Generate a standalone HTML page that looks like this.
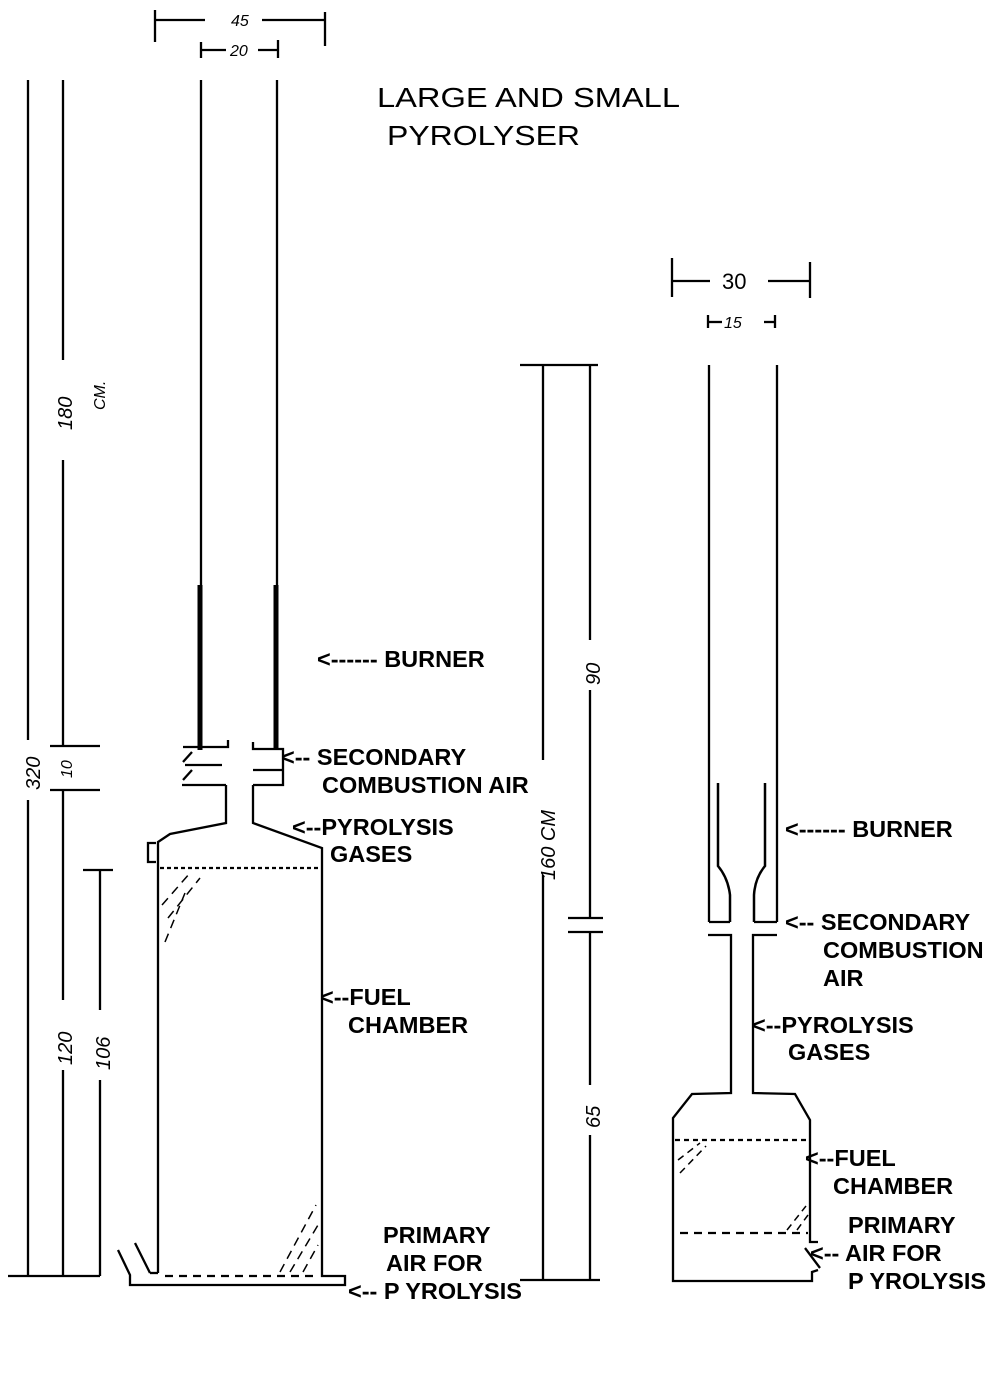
<!DOCTYPE html>
<html><head><meta charset="utf-8"><style>
html,body{margin:0;padding:0;background:#fff}
svg{display:block}
text{font-family:"Liberation Sans",Arial,sans-serif;fill:#000}
.l{font-size:23.5px;font-weight:bold}
.h{font-family:"Liberation Sans",sans-serif;font-style:italic;font-size:16px}
</style></head><body>
<svg width="1000" height="1378" viewBox="0 0 1000 1378" xmlns="http://www.w3.org/2000/svg">
<g stroke="#000" stroke-width="2.3" fill="none">
<line x1="155" y1="10" x2="155" y2="42"/><line x1="325" y1="12" x2="325" y2="46"/>
<line x1="155" y1="20" x2="205" y2="20"/><line x1="262" y1="20" x2="324" y2="20"/>
<line x1="201" y1="42" x2="201" y2="58"/><line x1="278" y1="40" x2="278" y2="58"/>
<line x1="201" y1="50" x2="226" y2="50"/><line x1="258" y1="50" x2="277" y2="50"/>
<line x1="201" y1="80" x2="201" y2="748"/><line x1="277" y1="80" x2="277" y2="748"/>
<line x1="200" y1="585" x2="200" y2="750" stroke-width="5"/><line x1="276" y1="585" x2="276" y2="750" stroke-width="5"/>
<line x1="28" y1="80" x2="28" y2="740"/><line x1="28" y1="800" x2="28" y2="1276"/>
<line x1="63" y1="80" x2="63" y2="360"/><line x1="63" y1="460" x2="63" y2="746"/>
<line x1="63" y1="790" x2="63" y2="1000"/><line x1="63" y1="1070" x2="63" y2="1276"/>
<line x1="100" y1="870" x2="100" y2="1010"/><line x1="100" y1="1080" x2="100" y2="1276"/>
<line x1="50" y1="746" x2="100" y2="746"/><line x1="50" y1="790" x2="100" y2="790"/>
<line x1="83" y1="870" x2="113" y2="870"/>
<line x1="8" y1="1276" x2="100" y2="1276"/>
<polyline points="183,747 228,747 228,740"/><line x1="185" y1="765" x2="222" y2="765"/><line x1="182" y1="785" x2="226" y2="785"/>
<line x1="183" y1="762" x2="192" y2="752"/><line x1="183" y1="780" x2="192" y2="770"/>
<polyline points="253,742 253,749 283,749 283,785 253,785"/><line x1="253" y1="770" x2="282" y2="770"/>
<polyline points="226,785 226,823 170,834 158,842 158,1273"/>
<polyline points="253,785 253,823 322,848 322,1276 345,1276 345,1285 130,1285 130,1275 118,1250"/>
<line x1="135" y1="1243" x2="150" y2="1273"/><line x1="150" y1="1273" x2="158" y2="1273"/>
<polyline points="156,843 148,843 148,862 156,862"/>
<line x1="160" y1="868" x2="320" y2="868" stroke-dasharray="4,3"/>
<line x1="165" y1="1276" x2="318" y2="1276" stroke-dasharray="8,6"/>
<g stroke-dasharray="9,6" stroke-width="1.5">
<line x1="162" y1="905" x2="190" y2="873"/><line x1="168" y1="918" x2="200" y2="878"/><line x1="165" y1="942" x2="185" y2="893"/>
<line x1="280" y1="1272" x2="316" y2="1205"/><line x1="290" y1="1272" x2="318" y2="1225"/><line x1="303" y1="1272" x2="318" y2="1245"/>
</g>
<line x1="672" y1="258" x2="672" y2="297"/><line x1="810" y1="262" x2="810" y2="298"/>
<line x1="672" y1="281" x2="710" y2="281"/><line x1="768" y1="281" x2="810" y2="281"/>
<line x1="708" y1="315" x2="708" y2="328"/><line x1="775" y1="315" x2="775" y2="328"/>
<line x1="708" y1="322" x2="722" y2="322"/><line x1="764" y1="322" x2="775" y2="322"/>
<line x1="520" y1="365" x2="598" y2="365"/>
<line x1="543" y1="365" x2="543" y2="760"/><line x1="543" y1="875" x2="543" y2="1280"/>
<line x1="590" y1="365" x2="590" y2="640"/><line x1="590" y1="690" x2="590" y2="918"/>
<line x1="568" y1="918" x2="603" y2="918"/><line x1="568" y1="932" x2="603" y2="932"/>
<line x1="590" y1="932" x2="590" y2="1085"/><line x1="590" y1="1135" x2="590" y2="1280"/>
<line x1="520" y1="1280" x2="600" y2="1280"/>
<line x1="709" y1="365" x2="709" y2="922"/><line x1="777" y1="365" x2="777" y2="922"/>
<line x1="709" y1="922" x2="730" y2="922"/><line x1="754" y1="922" x2="777" y2="922"/>
<path d="M718 783 V866 Q728 878 730 895 V922" stroke-width="2.5"/>
<path d="M765 783 V866 Q755 878 754 895 V922" stroke-width="2.5"/>
<polyline points="708,935 731,935 731,1093 692,1094 673,1118 673,1281 812,1281 812,1272 818,1270"/>
<polyline points="777,935 753,935 753,1093 795,1094 810,1120 810,1242 818,1242"/>
<line x1="675" y1="1140" x2="808" y2="1140" stroke-dasharray="5,4"/>
<line x1="680" y1="1233" x2="808" y2="1233" stroke-dasharray="8,6"/>
<g stroke-dasharray="7,5" stroke-width="1.5">
<line x1="678" y1="1160" x2="700" y2="1143"/><line x1="680" y1="1173" x2="706" y2="1146"/>
<line x1="787" y1="1230" x2="806" y2="1206"/><line x1="797" y1="1230" x2="808" y2="1215"/>
</g>
<line x1="805" y1="1248" x2="820" y2="1268"/>
</g>
<text class="h" x="231" y="26">45</text>
<text class="h" x="230" y="56" font-size="14">20</text>
<text x="722" y="289" font-size="22">30</text>
<text class="h" x="724" y="328">15</text>
<g font-size="20" font-style="italic">
<text transform="translate(40,790) rotate(-90)">320</text>
<text transform="translate(72,430) rotate(-90)">180</text>
<text transform="translate(105,410) rotate(-90)" font-size="16">CM.</text>
<text transform="translate(72,778) rotate(-90)" font-size="16">10</text>
<text transform="translate(72,1065) rotate(-90)">120</text>
<text transform="translate(110,1070) rotate(-90)">106</text>
<text transform="translate(555,880) rotate(-90)">160 CM</text>
<text transform="translate(600,685) rotate(-90)">90</text>
<text transform="translate(600,1128) rotate(-90)">65</text>
</g>
<text x="377" y="107" font-size="28" textLength="303" lengthAdjust="spacingAndGlyphs">LARGE AND SMALL</text>
<text x="387" y="145" font-size="28" textLength="193" lengthAdjust="spacingAndGlyphs">PYROLYSER</text>
<text class="l" x="317" y="667">&lt;------ BURNER</text>
<text class="l" x="281" y="765">&lt;-- SECONDARY</text>
<text class="l" x="322" y="793">COMBUSTION AIR</text>
<text class="l" x="292" y="835">&lt;--PYROLYSIS</text>
<text class="l" x="330" y="862">GASES</text>
<text class="l" x="320" y="1005">&lt;--FUEL</text>
<text class="l" x="348" y="1033">CHAMBER</text>
<text class="l" x="383" y="1243">PRIMARY</text>
<text class="l" x="386" y="1271">AIR FOR</text>
<text class="l" x="348" y="1299">&lt;-- P YROLYSIS</text>
<text class="l" x="785" y="837">&lt;------ BURNER</text>
<text class="l" x="785" y="930">&lt;-- SECONDARY</text>
<text class="l" x="823" y="958">COMBUSTION</text>
<text class="l" x="823" y="986">AIR</text>
<text class="l" x="752" y="1033">&lt;--PYROLYSIS</text>
<text class="l" x="788" y="1060">GASES</text>
<text class="l" x="805" y="1166">&lt;--FUEL</text>
<text class="l" x="833" y="1194">CHAMBER</text>
<text class="l" x="848" y="1233">PRIMARY</text>
<text class="l" x="810" y="1261">&lt;-- AIR FOR</text>
<text class="l" x="848" y="1289">P YROLYSIS</text>
</svg>
</body></html>
